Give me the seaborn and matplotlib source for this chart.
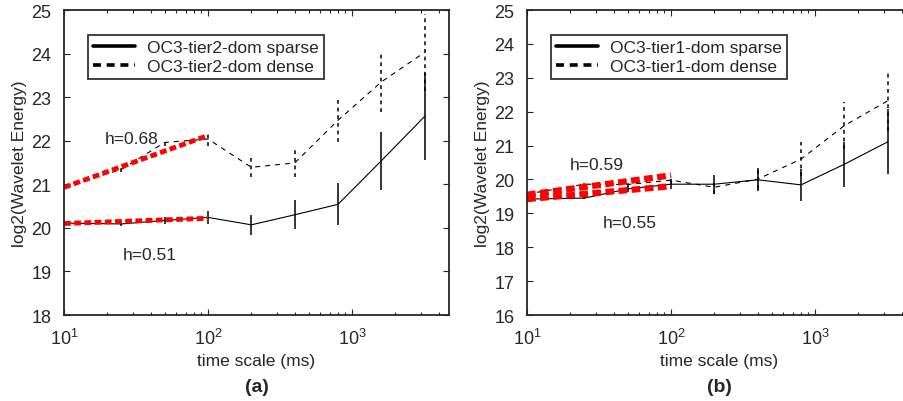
import numpy as np
import pandas as pd
import seaborn as sns
import matplotlib
matplotlib.use("Agg")
import matplotlib.pyplot as plt
from matplotlib.lines import Line2D

# time scales (ms)
scales = [10, 25, 50, 100, 200, 400, 800, 1600, 3200]

# panel (a): OC3-tier2-dom
a_sparse = [20.11, 20.09, 20.17, 20.24, 20.07, 20.30, 20.54, 21.54, 22.56]
a_sparse_err = [0.03, 0.04, 0.08, 0.15, 0.23, 0.33, 0.48, 0.67, 1.00]
a_dense = [20.95, 21.34, 21.96, 22.04, 21.39, 21.49, 22.47, 23.35, 24.03]
a_dense_err = [0.03, 0.05, 0.08, 0.17, 0.22, 0.33, 0.50, 0.69, 0.88]
a_fit_x = [10, 100]
a_fit_dense = [20.93, 22.12]
a_fit_sparse = [20.10, 20.22]

# panel (b): OC3-tier1-dom
b_sparse = [19.42, 19.45, 19.72, 19.86, 19.86, 19.99, 19.84, 20.45, 21.11]
b_sparse_err = [0.03, 0.04, 0.08, 0.15, 0.28, 0.34, 0.47, 0.66, 0.96]
b_dense = [19.57, 19.86, 19.85, 19.98, 19.77, 20.01, 20.60, 21.59, 22.32]
b_dense_err = [0.03, 0.05, 0.08, 0.12, 0.20, 0.30, 0.50, 0.69, 0.90]
b_fit_x = [10, 100]
b_fit_dense = [19.55, 20.12]
b_fit_sparse = [19.42, 19.80]


def draw_panel(ax, sparse, sparse_err, dense, dense_err, fit_x, fit_dense,
               fit_sparse, names, hlabels, ylim, red_lw, tag):
    df = pd.DataFrame({"scale": scales, "sparse": sparse, "dense": dense})
    sns.lineplot(data=df, x="scale", y="sparse", ax=ax, color="black",
                 lw=0.8, legend=False)
    sns.lineplot(data=df, x="scale", y="dense", ax=ax, color="black",
                 lw=0.8, linestyle=(0, (4.5, 4.5)), legend=False)
    ax.errorbar(scales, sparse, yerr=sparse_err, fmt="none", ecolor="black",
                elinewidth=1.1, capsize=0)
    eb = ax.errorbar(scales, dense, yerr=dense_err, fmt="none", ecolor="black",
                     elinewidth=1.1, capsize=0)
    for c in eb.lines[2]:
        c.set_linestyle((0, (2.5, 2.5)))

    # red fit lines over the small scales
    fits = pd.DataFrame({"x": fit_x, "d": fit_dense, "s": fit_sparse})
    for col in ["d", "s"]:
        sns.lineplot(data=fits, x="x", y=col, ax=ax, color="red", lw=red_lw,
                     linestyle=(0, (1.4, 0.7)), legend=False)

    for txt, (tx, ty) in hlabels:
        ax.text(tx, ty, txt, fontsize=12.5, va="center", ha="left")

    ax.set_xscale("log")
    ax.set_xlim(10, 4720)
    ax.set_ylim(*ylim)
    ax.set_yticks(range(ylim[0], ylim[1] + 1))
    ax.set_xlabel("time scale (ms)", fontsize=12.5, labelpad=4)
    ax.set_ylabel("log2(Wavelet Energy)", fontsize=12.5, labelpad=3)
    ax.tick_params(which="both", direction="in", top=True, right=True,
                   labelsize=13, width=0.8)
    ax.tick_params(axis="y", which="major", length=4, pad=9)
    ax.tick_params(axis="x", which="major", length=4, pad=9)
    ax.tick_params(which="minor", length=2)
    for s in ax.spines.values():
        s.set_linewidth(1.3)
        s.set_visible(True)

    handles = [Line2D([0], [0], color="black", lw=2.6),
               Line2D([0], [0], color="black", lw=2.6, linestyle=(0, (2.2, 1.6)))]
    leg = ax.legend(handles, names, loc="upper left",
                    bbox_to_anchor=(0.062, 0.918), borderaxespad=0,
                    fontsize=12.5, frameon=True,
                    fancybox=False, edgecolor="black", handlelength=2.4,
                    borderpad=0.3, labelspacing=0.2, handletextpad=0.7)
    leg.get_frame().set_linewidth(1.3)
    ax.text(0.5, -0.235, tag, transform=ax.transAxes, ha="center",
            va="center", fontsize=14, fontweight="bold")


def main():
    sns.set_style("ticks")
    plt.rcParams["font.family"] = ["Liberation Sans", "DejaVu Sans"]
    plt.rcParams["mathtext.fontset"] = "custom"
    plt.rcParams["mathtext.rm"] = "Liberation Sans"

    fig = plt.figure(figsize=(9.04, 4.02), dpi=100)
    ax_a = fig.add_axes([0.0708, 0.2139, 0.4259, 0.7587])
    ax_b = fig.add_axes([0.5830, 0.2139, 0.4259, 0.7587])

    draw_panel(ax_a, a_sparse, a_sparse_err, a_dense, a_dense_err, a_fit_x,
               a_fit_dense, a_fit_sparse,
               ["OC3-tier2-dom sparse", "OC3-tier2-dom dense"],
               [("h=0.68", (19.3, 22.04)), ("h=0.51", (25.6, 19.38))],
               (18, 25), 3.5, "(a)")
    draw_panel(ax_b, b_sparse, b_sparse_err, b_dense, b_dense_err, b_fit_x,
               b_fit_dense, b_fit_sparse,
               ["OC3-tier1-dom sparse", "OC3-tier1-dom dense"],
               [("h=0.59", (19.9, 20.45)), ("h=0.55", (33.7, 18.74))],
               (16, 25), 4.5, "(b)")

    fig.savefig("out.png", dpi=100)


if __name__ == "__main__":
    main()
